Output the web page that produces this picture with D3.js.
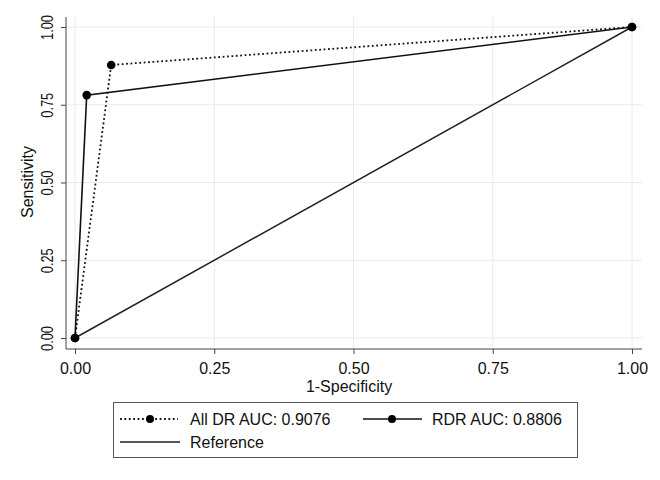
<!DOCTYPE html>
<html lang="en">
<head>
    <meta charset="utf-8">
    <script type="text/javascript" src="https://d3js.org/d3.v7.min.js"></script>
    <style>
        body { margin: 0; background: #fff; }
        text { font-family: "Liberation Sans", Arial, sans-serif; fill: #111; }
    </style>
</head>
<body>
    <script type="text/javascript">
        // SVG width and height
        let w = 660;
        let h = 480;

        // Data (ROC points)
        let allDrX = [0, 0.065, 1];
        let allDrY = [0, 0.878, 1];
        let rdrX = [0, 0.021, 1];
        let rdrY = [0, 0.781, 1];
        let refX = [0, 1];
        let refY = [0, 1];
        let ticks = [0, 0.25, 0.5, 0.75, 1];
        let legendLabels = ["All DR AUC: 0.9076", "RDR AUC: 0.8806", "Reference"];

        let svg = d3.select("body").append("svg")
                    .attr("width", w)
                    .attr("height", h);

        // Scales
        let x = d3.scaleLinear().domain([0, 1]).range([75, 632]);
        let y = d3.scaleLinear().domain([0, 1]).range([338, 27]);

        let plotLeft = 66, plotRight = 642, plotTop = 17, plotBottom = 349;

        // Grid lines
        svg.append("g").selectAll("line")
            .data(ticks)
            .join("line")
                .attr("x1", plotLeft).attr("x2", plotRight)
                .attr("y1", d => y(d)).attr("y2", d => y(d))
                .attr("stroke", "#e6ebf0").attr("stroke-width", 1);
        svg.append("g").selectAll("line")
            .data(ticks)
            .join("line")
                .attr("x1", d => x(d)).attr("x2", d => x(d))
                .attr("y1", plotTop).attr("y2", plotBottom)
                .attr("stroke", "#e6ebf0").attr("stroke-width", 1);

        // Axes
        let xAxis = svg.append("g")
            .attr("transform", "translate(0," + plotBottom + ")")
            .call(d3.axisBottom(x).tickValues(ticks).tickFormat(d3.format(".2f")).tickSize(5));
        xAxis.select(".domain").attr("d", "M" + plotLeft + ",0H" + plotRight).attr("stroke", "#444");
        xAxis.selectAll(".tick line").attr("stroke", "#444");
        xAxis.selectAll("text")
            .attr("font-size", "16px")
            .attr("y", 25).attr("dy", 0);

        let yAxis = svg.append("g")
            .attr("transform", "translate(" + plotLeft + ",0)")
            .call(d3.axisLeft(y).tickValues(ticks).tickFormat(d3.format(".2f")).tickSize(5));
        yAxis.select(".domain").attr("d", "M0," + plotTop + "V" + plotBottom).attr("stroke", "#444");
        yAxis.selectAll(".tick line").attr("stroke", "#444");
        yAxis.selectAll("text")
            .attr("font-size", "16px")
            .attr("text-anchor", "middle")
            .attr("x", 0).attr("dy", 0)
            .attr("textLength", 25).attr("lengthAdjust", "spacingAndGlyphs")
            .attr("transform", "translate(-13,0) rotate(-90)");

        // Axis titles
        svg.append("text")
            .attr("x", 349).attr("y", 392)
            .attr("text-anchor", "middle")
            .attr("font-size", "16px")
            .text("1-Specificity");
        svg.append("text")
            .attr("transform", "translate(33,182) rotate(-90)")
            .attr("text-anchor", "middle")
            .attr("font-size", "16px")
            .text("Sensitivity");

        let line = d3.line().x(d => x(d[0])).y(d => y(d[1]));

        // Reference line
        svg.append("path")
            .datum(d3.zip(refX, refY))
            .attr("d", line)
            .attr("fill", "none").attr("stroke", "#222").attr("stroke-width", 1.5);

        // RDR
        svg.append("path")
            .datum(d3.zip(rdrX, rdrY))
            .attr("d", line)
            .attr("fill", "none").attr("stroke", "#111").attr("stroke-width", 1.6);

        // All DR
        svg.append("path")
            .datum(d3.zip(allDrX, allDrY))
            .attr("d", line)
            .attr("fill", "none").attr("stroke", "#111").attr("stroke-width", 1.8)
            .attr("stroke-dasharray", "1.8,2.6");

        // Markers
        svg.append("g").selectAll("circle")
            .data(d3.zip(rdrX, rdrY).concat(d3.zip(allDrX, allDrY)))
            .join("circle")
                .attr("cx", d => x(d[0]))
                .attr("cy", d => y(d[1]))
                .attr("r", 4.3)
                .attr("fill", "#000");

        // Legend
        let lg = svg.append("g");
        lg.append("rect")
            .attr("x", 113.5).attr("y", 402.5)
            .attr("width", 464).attr("height", 55)
            .attr("fill", "#fff").attr("stroke", "#555").attr("stroke-width", 1);

        lg.append("line").attr("x1", 120).attr("x2", 178).attr("y1", 419).attr("y2", 419)
            .attr("stroke", "#111").attr("stroke-width", 1.8).attr("stroke-dasharray", "1.8,2.6");
        lg.append("circle").attr("cx", 150).attr("cy", 419).attr("r", 4).attr("fill", "#000");
        lg.append("line").attr("x1", 363).attr("x2", 422).attr("y1", 419).attr("y2", 419)
            .attr("stroke", "#111").attr("stroke-width", 1.6);
        lg.append("circle").attr("cx", 392).attr("cy", 419).attr("r", 4).attr("fill", "#000");
        lg.append("line").attr("x1", 120).attr("x2", 180).attr("y1", 442).attr("y2", 442)
            .attr("stroke", "#222").attr("stroke-width", 1.5);

        lg.selectAll("text")
            .data(legendLabels)
            .join("text")
                .attr("x", (d, i) => i === 1 ? 432 : 190)
                .attr("y", (d, i) => i === 2 ? 448 : 425)
                .attr("font-size", "16px")
                .text(d => d);
    </script>
</body>
</html>
